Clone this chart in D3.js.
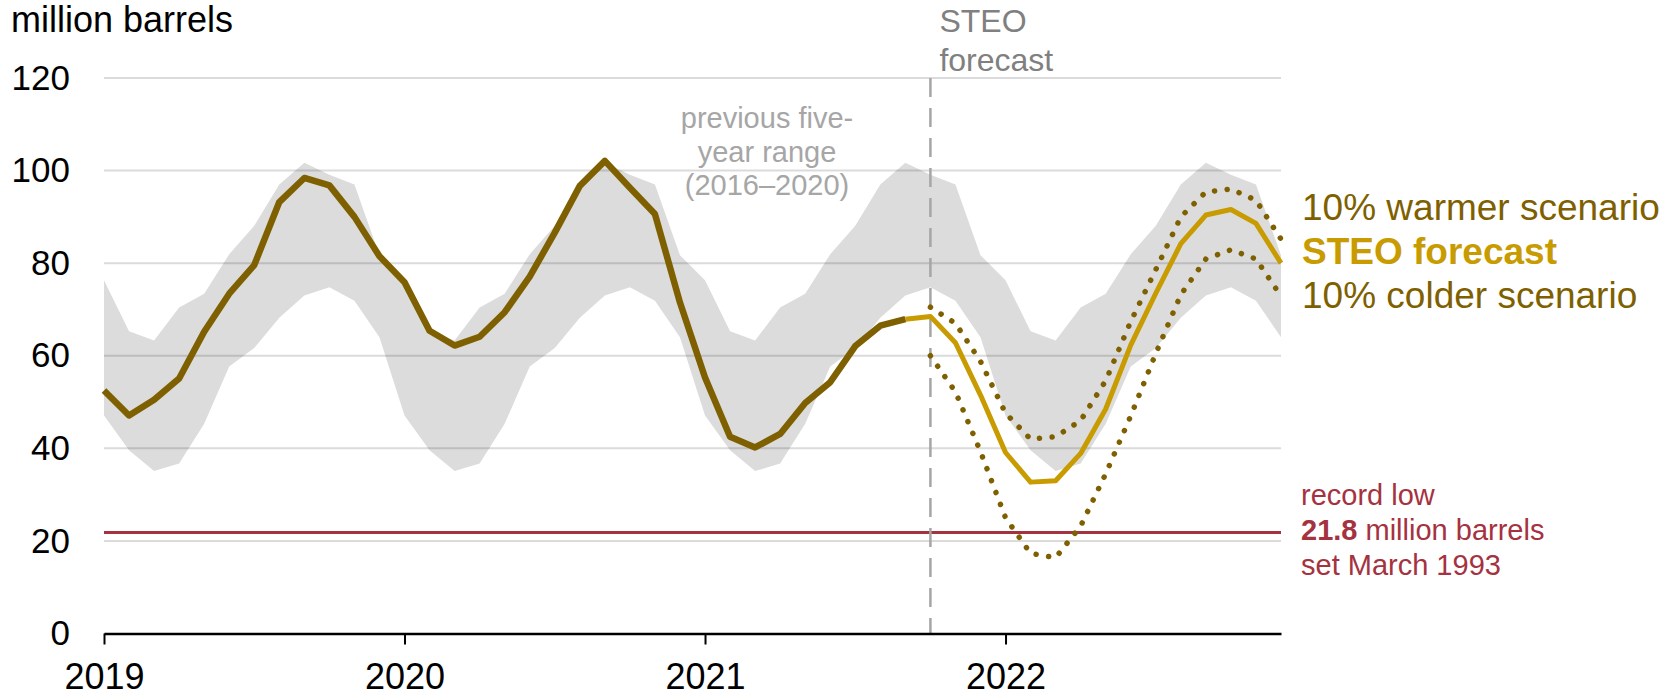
<!DOCTYPE html>
<html>
<head>
<meta charset="utf-8">
<script src="https://cdn.jsdelivr.net/npm/d3@7"></script>
<style>
  body { margin: 0; background: #fff; }
  svg text { font-family: "Liberation Sans", Arial, sans-serif; }
</style>
</head>
<body>
<script>

var w = 1665, h = 692;

// months are indexed from Jan 2019 (0) to Dec 2022 (47)
var yearLabels = ["2019", "2020", "2021", "2022"];
var yTicks = [0, 20, 40, 60, 80, 100, 120];

// previous five-year range (2016-2020), by calendar month
var rangeHigh = [76.3, 65.3, 63.3, 70.4, 73.4, 81.9, 88.1, 97.0, 101.7, 99.1, 97.0, 81.7];
var rangeLow  = [47.1, 39.6, 35.1, 36.7, 45.3, 57.7, 61.7, 68.2, 73.0, 74.8, 71.9, 64.0];

// inventories Jan 2019 - Sep 2021
var histValues = [
  52.5, 47.1, 50.5, 55.1, 65.2, 73.4, 79.6, 93.2, 98.4, 96.8, 90.0, 81.5,
  75.9, 65.4, 62.2, 64.1, 69.4, 77.1, 86.6, 96.7, 102.1, 96.3, 90.6, 71.5,
  55.3, 42.5, 40.2, 43.1, 49.8, 54.3, 62.1, 66.5, 67.9
];
// STEO forecast Sep 2021 - Dec 2022
var forecastStart = 32;
var forecast = [67.9, 68.5, 62.8, 51.5, 39.1, 32.7, 33.0, 38.9, 48.5, 62.3, 73.5, 84.2, 90.4, 91.6, 88.6, 80.0];
// scenarios Oct 2021 - Dec 2022
var scenarioStart = 33;
var warmer = [70.5, 67.0, 58.8, 47.6, 42.0, 42.5, 46.0, 54.6, 67.4, 78.6, 90.0, 95.4, 96.0, 93.6, 85.2];
var colder = [60.0, 52.2, 39.3, 25.0, 17.3, 16.4, 23.2, 34.5, 47.0, 60.5, 73.2, 80.9, 82.9, 80.9, 72.9];

var recordLow = 21.8;

var brown = "#7f6000", gold = "#c89b00", red = "#a5323f";

var svg = d3.select("body").append("svg")
  .attr("width", w)
  .attr("height", h);

var x = d3.scaleLinear().domain([0, 47]).range([104, 1281]);
var y = d3.scaleLinear().domain([0, 120]).range([633.5, 78]);

// five year band repeated over every year
var band = d3.range(48).map(i => ({i: i, lo: rangeLow[i % 12], hi: rangeHigh[i % 12]}));
svg.append("path")
  .datum(band)
  .attr("fill", "#dcdcdc")
  .attr("d", d3.area().x(d => x(d.i)).y0(d => y(d.lo)).y1(d => y(d.hi)));

// grid
svg.selectAll("line.grid")
  .data(yTicks.filter(d => d > 0))
  .enter()
  .append("line")
  .attr("class", "grid")
  .attr("x1", x(0)).attr("x2", x(47))
  .attr("y1", d => y(d)).attr("y2", d => y(d))
  .attr("stroke", "#000").attr("stroke-opacity", 0.14)
  .attr("stroke-width", 2);

// y labels
var yAxis = d3.axisLeft(y).tickValues(yTicks).tickSize(0).tickPadding(34);
svg.append("g")
  .attr("transform", `translate(${x(0)},0)`)
  .call(yAxis)
  .call(g => g.select(".domain").remove())
  .selectAll("text")
  .attr("font-size", "35px")
  .attr("fill", "#000");

// record low
svg.append("line")
  .attr("x1", x(0)).attr("x2", x(47))
  .attr("y1", y(recordLow)).attr("y2", y(recordLow))
  .attr("stroke", red).attr("stroke-width", 3);

// forecast divider
svg.append("line")
  .attr("x1", x(scenarioStart)).attr("x2", x(scenarioStart))
  .attr("y1", y(120)).attr("y2", y(0))
  .attr("stroke", "#a6a6a6").attr("stroke-width", 2.5)
  .attr("stroke-dasharray", "19,11");

var line = d3.line().x(d => x(d[0])).y(d => y(d[1]));

function series(values, start){
  return values.map((v, k) => [start + k, v]);
}

// scenarios
[warmer, colder].forEach(s => {
  svg.append("path")
    .datum(series(s, scenarioStart))
    .attr("fill", "none")
    .attr("stroke", brown)
    .attr("stroke-width", 5.5)
    .attr("stroke-linecap", "round")
    .attr("stroke-dasharray", "0.1,12.6")
    .attr("d", line);
});

svg.append("path")
  .datum(series(forecast, forecastStart))
  .attr("fill", "none")
  .attr("stroke", gold)
  .attr("stroke-width", 5)
  .attr("stroke-linejoin", "round")
  .attr("d", line);

svg.append("path")
  .datum(series(histValues, 0))
  .attr("fill", "none")
  .attr("stroke", brown)
  .attr("stroke-width", 6.5)
  .attr("stroke-linejoin", "round")
  .attr("d", line);

// x axis
var xAxis = d3.axisBottom(x)
  .tickValues([0, 12, 24, 36])
  .tickFormat((d, i) => yearLabels[i])
  .tickSize(11)
  .tickSizeOuter(0)
  .tickPadding(19);

var gx = svg.append("g")
  .attr("transform", `translate(0, ${y(0)})`)
  .call(xAxis);
gx.select(".domain").attr("stroke", "#000").attr("stroke-width", 2.5);
gx.selectAll(".tick line").attr("stroke", "#000").attr("stroke-width", 2);
gx.selectAll("text").attr("font-size", "36px").attr("fill", "#000");

// axis title
svg.append("text")
  .attr("x", 11).attr("y", 32)
  .attr("font-size", "36px")
  .text("million barrels");

// STEO label
svg.selectAll("text.steo")
  .data(["STEO", "forecast"])
  .enter()
  .append("text")
  .attr("class", "steo")
  .attr("x", x(scenarioStart) + 9)
  .attr("y", (d, i) => 32 + i * 38.5)
  .attr("font-size", "32px")
  .attr("fill", "#808080")
  .text(d => d);

// range label
svg.selectAll("text.range")
  .data(["previous five-", "year range", "(2016\u20132020)"])
  .enter()
  .append("text")
  .attr("class", "range")
  .attr("x", 767)
  .attr("y", (d, i) => 128 + i * 33.5)
  .attr("text-anchor", "middle")
  .attr("font-size", "29px")
  .attr("fill", "#a6a6a6")
  .text(d => d);

// legend
var legend = [
  {t: "10% warmer scenario", c: brown, b: false},
  {t: "STEO forecast", c: gold, b: true},
  {t: "10% colder scenario", c: brown, b: false}
];
svg.selectAll("text.legend")
  .data(legend)
  .enter()
  .append("text")
  .attr("class", "legend")
  .attr("x", 1302)
  .attr("y", (d, i) => 220 + i * 44)
  .attr("font-size", "37px")
  .attr("font-weight", d => d.b ? "bold" : "normal")
  .attr("fill", d => d.c)
  .text(d => d.t);

// record low note
var note = svg.append("g").attr("fill", red).attr("font-size", "29px");
note.append("text").attr("x", 1301).attr("y", 504.5).text("record low");
var t2 = note.append("text").attr("x", 1301).attr("y", 540);
t2.append("tspan").attr("font-weight", "bold").text(recordLow);
t2.append("tspan").text(" million barrels");
note.append("text").attr("x", 1301).attr("y", 575).text("set March 1993");

</script>
</body>
</html>
